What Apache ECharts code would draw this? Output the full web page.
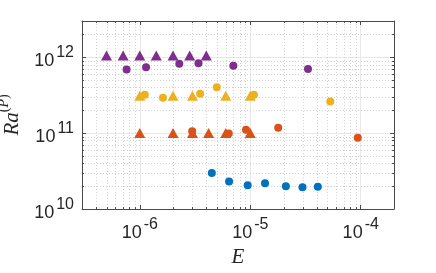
<!DOCTYPE html>
<html><head><meta charset="utf-8">
<script src="https://cdn.jsdelivr.net/npm/echarts@6/dist/echarts.min.js"></script>
<style>html,body{margin:0;padding:0;background:#fff}#c{width:436px;height:273px}</style>
</head><body><div id="c"></div>
<script>
// ---- data ----
const xTickExps = [-6, -5, -4];
const yTickExps = [10, 11, 12];
const xMin = 3e-7, xMax = 2e-4;
const yMin = 1e10, yMax = 3e12;

const blueCircE  = [4.49e-6, 6.43e-6, 9.48e-6, 1.36e-5, 2.1e-5, 2.97e-5, 4.09e-5];
const blueCircRa = [2.98e10, 2.31e10, 2.05e10, 2.18e10, 2.0e10, 1.93e10, 1.97e10];

const redCircE  = [2.98e-6, 6.39e-6, 9.15e-6, 1.79e-5, 9.4e-5];
const redCircRa = [1.06e11, 9.9e10, 1.11e11, 1.18e11, 8.7e10];
const redTriE  = [1e-6, 2e-6, 3e-6, 4.2e-6, 6e-6, 1e-5];
const redTriRa = [1e11, 1e11, 1e11, 1e11, 1e11, 1e11];

const yellowCircE  = [1.11e-6, 1.62e-6, 3.52e-6, 4.98e-6, 1.08e-5, 5.3e-5];
const yellowCircRa = [3.2e11, 2.92e11, 3.3e11, 4.03e11, 3.2e11, 2.61e11];
const yellowTriE  = [1e-6, 2e-6, 3e-6, 6e-6, 1e-5];
const yellowTriRa = [3.1e11, 3.1e11, 3.1e11, 3.1e11, 3.1e11];

const purpleCircE  = [7.6e-7, 1.14e-6, 2.28e-6, 3.4e-6, 7.03e-6, 3.33e-5];
const purpleCircRa = [6.9e11, 7.4e11, 8.2e11, 8.3e11, 7.7e11, 7.0e11];
const purpleTriE  = [5e-7, 7.07e-7, 1e-6, 1.41e-6, 2e-6, 2.83e-6, 4e-6];
const purpleTriRa = [1.05e12, 1.05e12, 1.05e12, 1.05e12, 1.05e12, 1.05e12, 1.05e12];

const colors = { blue: '#0072BD', red: '#D95319', yellow: '#EDB120', purple: '#7E2F8E' };

// ---- helpers ----
const zip = (a, b) => a.map((v, i) => [v, b[i]]);
function minorVals(lo, hi) {
  const out = [];
  for (let e = Math.floor(Math.log10(lo)); e <= Math.ceil(Math.log10(hi)); e++) {
    for (let m = 2; m <= 9; m++) {
      const v = m * Math.pow(10, e);
      if (v > lo * 1.0001 && v < hi * 0.9999) out.push(v);
    }
  }
  return out;
}
const xMinor = minorVals(xMin, xMax);
const yMinor = minorVals(yMin, yMax);

const txtColor = '#262626';
const axisColor = '#4a4a4a';
const labelRich = {
  b: { fontFamily: 'Liberation Sans', fontSize: 18, color: txtColor, padding: [8, 0, 0, 0] },
  s: { fontFamily: 'Liberation Sans', fontSize: 16, color: txtColor, padding: [0, 0, 9, 2] }
};
const expOf = v => Math.round(Math.log10(v));
const fmtX = v => { const e = expOf(v); return xTickExps.includes(e) ? '{b|10}{s|' + e + '}' : ''; };
const fmtY = v => { const e = expOf(v); return yTickExps.includes(e) ? '{b|10}{s|' + e + '}' : ''; };

function scatter(name, e, ra, color, sym, size) {
  return { name, type: 'scatter', xAxisIndex: 0, yAxisIndex: 0, data: zip(e, ra),
    symbol: sym, symbolSize: size, itemStyle: { color, opacity: 1 }, z: 5, silent: true };
}

const chart = echarts.init(document.getElementById('c'), null, { renderer: 'canvas' });
chart.setOption({
  animation: false,
  backgroundColor: '#fff',
  grid: { left: 82, right: 42, top: 21, bottom: 64, containLabel: false, outerBoundsMode: 'none' },
  xAxis: [{
    type: 'log', logBase: 10, min: xMin, max: xMax, position: 'bottom',
    name: 'E', nameLocation: 'middle', nameGap: 37,
    nameTextStyle: { fontFamily: 'Liberation Serif', fontStyle: 'italic', fontSize: 21, color: txtColor },
    axisLine: { show: true, onZero: false, lineStyle: { color: axisColor, width: 1 } },
    axisTick: { show: true, inside: true, length: 4, lineStyle: { color: axisColor } },
    axisLabel: { formatter: fmtX, rich: labelRich, margin: 7, showMinLabel: false, showMaxLabel: false },
    splitLine: { show: true, lineStyle: { color: '#e8e8e8', width: 1 } }
  }, {
    type: 'log', logBase: 10, min: xMin, max: xMax, position: 'top',
    axisLine: { show: true, onZero: false, lineStyle: { color: axisColor, width: 1 } },
    axisTick: { show: true, inside: true, length: 4, lineStyle: { color: axisColor } },
    axisLabel: { show: false }, splitLine: { show: false }
  }],
  yAxis: [{
    type: 'log', logBase: 10, min: yMin, max: yMax, position: 'left',
    name: '{i|Ra}{u|(}{p|P}{u|)}', nameLocation: 'middle', nameGap: 57, nameRotate: 90,
    nameTextStyle: { rich: {
      i: { fontFamily: 'Liberation Serif', fontStyle: 'italic', fontSize: 21, color: txtColor, padding: [8, 0, 0, 0] },
      u: { fontFamily: 'Liberation Serif', fontSize: 14, color: txtColor, padding: [0, 0, 8, 0] },
      p: { fontFamily: 'Liberation Serif', fontStyle: 'italic', fontSize: 14, color: txtColor, padding: [0, 0, 8, 0] }
    } },
    axisLine: { show: true, onZero: false, lineStyle: { color: axisColor, width: 1 } },
    axisTick: { show: true, inside: true, length: 4, lineStyle: { color: axisColor } },
    axisLabel: { formatter: fmtY, rich: labelRich, margin: 8, showMinLabel: true, showMaxLabel: false },
    splitLine: { show: true, lineStyle: { color: '#e8e8e8', width: 1 } }
  }, {
    type: 'log', logBase: 10, min: yMin, max: yMax, position: 'right',
    axisLine: { show: true, onZero: false, lineStyle: { color: axisColor, width: 1 } },
    axisTick: { show: true, inside: true, length: 4, lineStyle: { color: axisColor } },
    axisLabel: { show: false }, splitLine: { show: false }
  }],
  series: [
    {
      type: 'custom', xAxisIndex: 0, yAxisIndex: 0, silent: true, z: 1, clip: false,
      data: xMinor.map(v => [v, yMin]),
      renderItem(params, api) {
        const cs = params.coordSys;
        const x = Math.round(api.coord([api.value(0), api.value(1)])[0]) + 0.5;
        const top = cs.y, bot = cs.y + cs.height;
        return { type: 'group', children: [
          { type: 'line', shape: { x1: x, y1: top, x2: x, y2: bot }, style: { stroke: '#d2d2d2', lineWidth: 1, lineDash: [1, 2] } },
          { type: 'line', shape: { x1: x, y1: bot, x2: x, y2: bot - 2 }, style: { stroke: axisColor, lineWidth: 1 } },
          { type: 'line', shape: { x1: x, y1: top, x2: x, y2: top + 2 }, style: { stroke: axisColor, lineWidth: 1 } }
        ] };
      }
    },
    {
      type: 'custom', xAxisIndex: 0, yAxisIndex: 0, silent: true, z: 1, clip: false,
      data: yMinor.map(v => [xMin, v]),
      renderItem(params, api) {
        const cs = params.coordSys;
        const y = Math.round(api.coord([api.value(0), api.value(1)])[1]) + 0.5;
        const l = cs.x, r = cs.x + cs.width;
        return { type: 'group', children: [
          { type: 'line', shape: { x1: l, y1: y, x2: r, y2: y }, style: { stroke: '#d2d2d2', lineWidth: 1, lineDash: [1, 2] } },
          { type: 'line', shape: { x1: l, y1: y, x2: l + 2, y2: y }, style: { stroke: axisColor, lineWidth: 1 } },
          { type: 'line', shape: { x1: r, y1: y, x2: r - 2, y2: y }, style: { stroke: axisColor, lineWidth: 1 } }
        ] };
      }
    },
    scatter('blue circles', blueCircE, blueCircRa, colors.blue, 'circle', 8),
    scatter('red circles', redCircE, redCircRa, colors.red, 'circle', 8),
    scatter('red triangles', redTriE, redTriRa, colors.red, 'triangle', [11, 10]),
    scatter('yellow circles', yellowCircE, yellowCircRa, colors.yellow, 'circle', 8),
    scatter('yellow triangles', yellowTriE, yellowTriRa, colors.yellow, 'triangle', [11, 10]),
    scatter('purple circles', purpleCircE, purpleCircRa, colors.purple, 'circle', 8),
    scatter('purple triangles', purpleTriE, purpleTriRa, colors.purple, 'triangle', [11, 10])
  ]
});
</script></body></html>
